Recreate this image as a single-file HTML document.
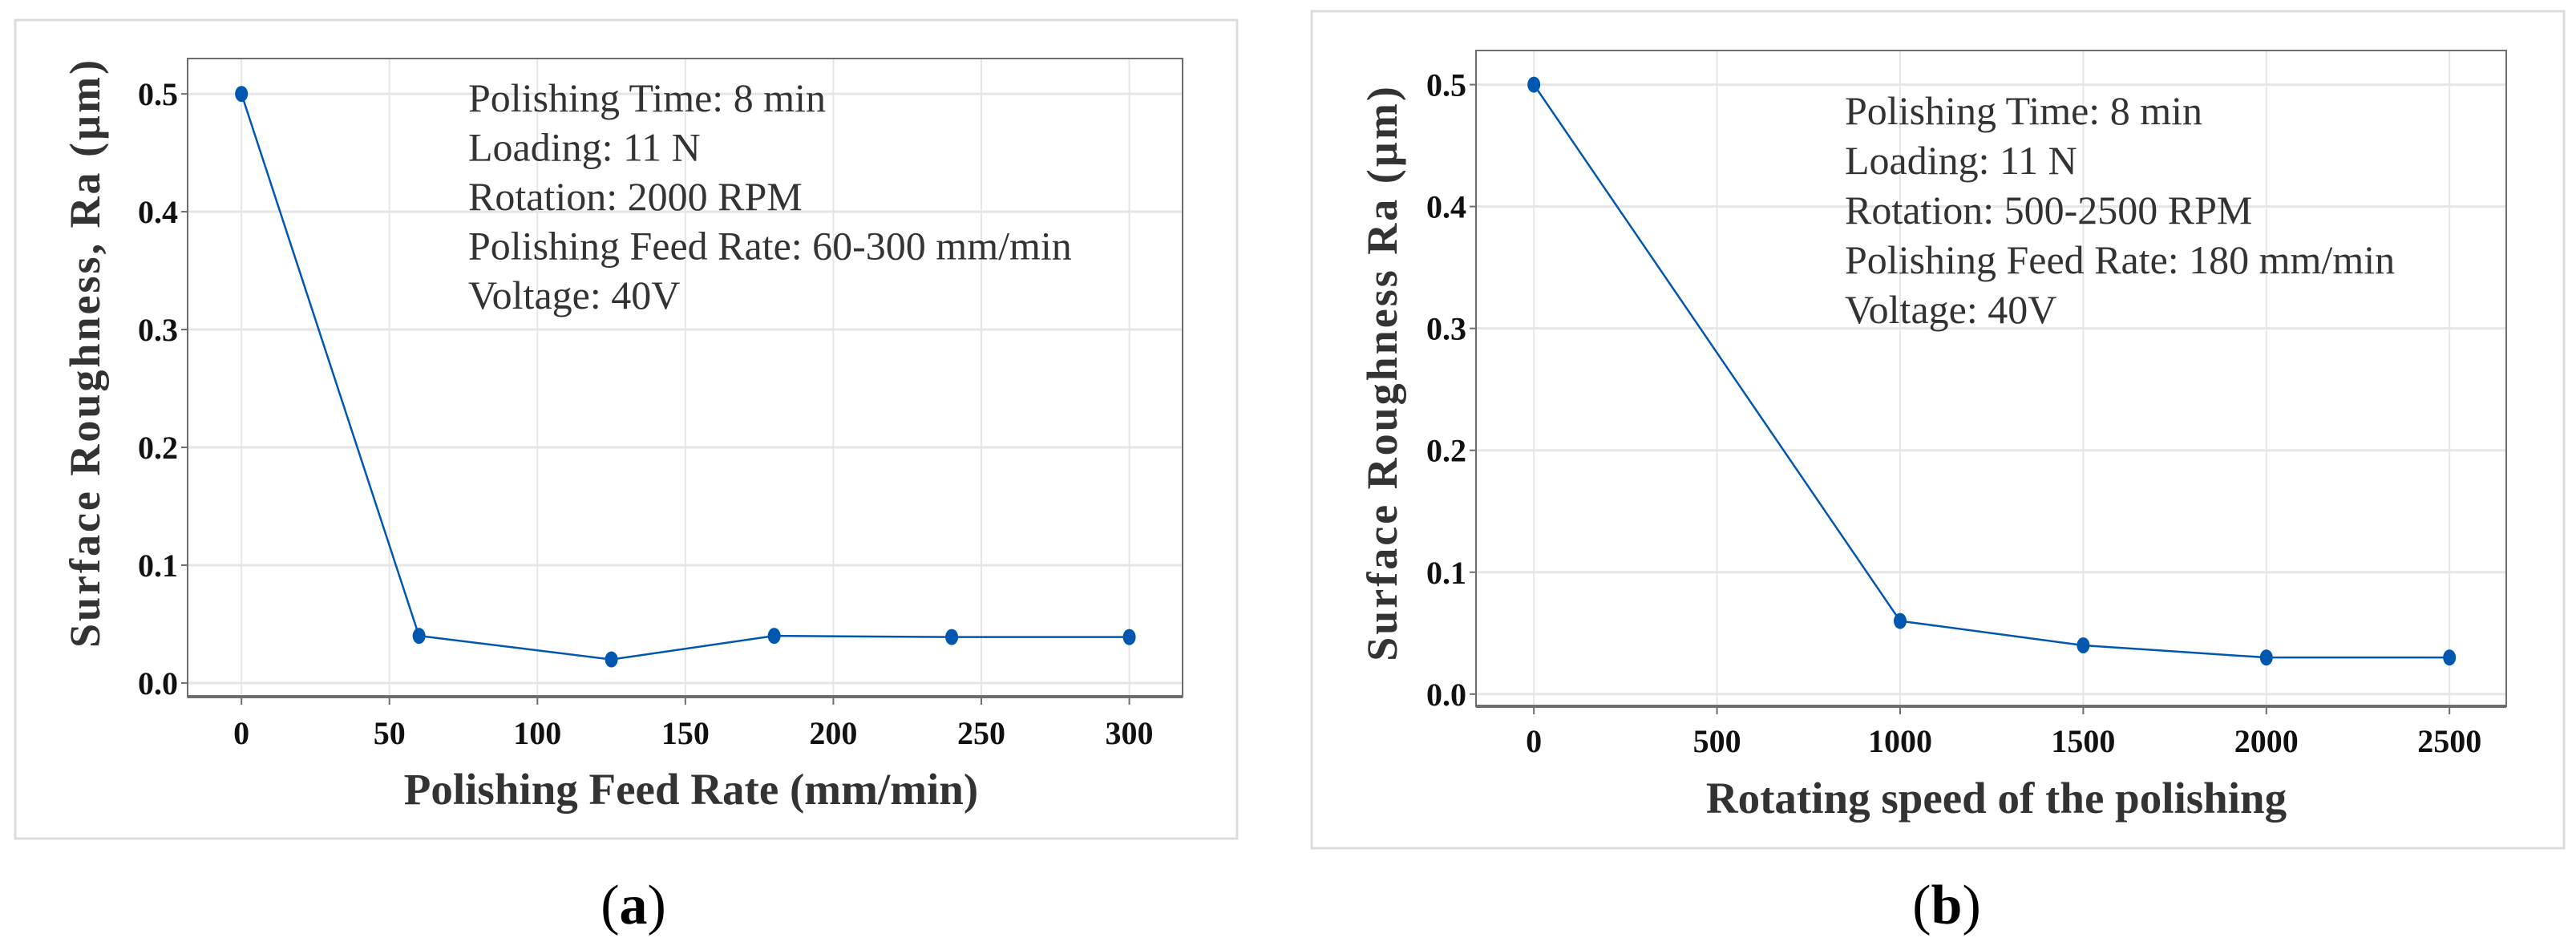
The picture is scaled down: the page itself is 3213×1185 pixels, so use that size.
<!DOCTYPE html>
<html><head><meta charset="utf-8"><style>
html,body{margin:0;padding:0;background:#fff;}
svg{display:block;}
</style></head><body>
<svg id="fig" width="3213" height="1185" viewBox="0 0 3213 1185" xmlns="http://www.w3.org/2000/svg">
<rect x="0" y="0" width="3213" height="1185" fill="#fff"/>
</svg>
<script>
// Panel (a) data
const feedRates = [0, 60, 125, 180, 240, 300];
const feedRoughness = [0.5, 0.04, 0.02, 0.04, 0.039, 0.039];
const feedTicks = [0, 50, 100, 150, 200, 250, 300];
// Panel (b) data
const speeds = [0, 1000, 1500, 2000, 2500];
const speedRoughness = [0.5, 0.06, 0.04, 0.03, 0.03];
const speedTicks = [0, 500, 1000, 1500, 2000, 2500];
const yTicks = [0.0, 0.1, 0.2, 0.3, 0.4, 0.5];
const notesA = ["Polishing Time: 8 min","Loading: 11 N","Rotation: 2000 RPM","Polishing Feed Rate: 60-300 mm/min","Voltage: 40V"];
const notesB = ["Polishing Time: 8 min","Loading: 11 N","Rotation: 500-2500 RPM","Polishing Feed Rate: 180 mm/min","Voltage: 40V"];

const NS = "http://www.w3.org/2000/svg";
const svg = document.getElementById('fig');
function mk(tag, attrs, parent, text){
  const e = document.createElementNS(NS, tag);
  for (const k in attrs) e.setAttribute(k, attrs[k]);
  if (text !== undefined) e.textContent = text;
  (parent||svg).appendChild(e);
  return e;
}

function panel(cfg){
  const g = mk('g', {});
  
  
  const border = mk('rect', {x:cfg.bx, y:cfg.by, width:cfg.bw, height:cfg.bh, fill:'#fff', stroke:'#dcdcdc', 'stroke-width':3}, g);
  
  
  const L=cfg.l, T=cfg.t, R=cfg.r, B=cfg.b;
  const sx = v => L + (v - cfg.xmin) / (cfg.xmax - cfg.xmin) * (R - L);
  const sy = v => B - (v - cfg.ymin) / (cfg.ymax - cfg.ymin) * (B - T);
  cfg.xticks.forEach(v => {
    const ln = mk('line', {x1:sx(v), x2:sx(v), y1:T, y2:B, stroke:'#e6e6e6', 'stroke-width':2}, g);
    
    
  });
  yTicks.forEach(v => {
    const ln = mk('line', {x1:L, x2:R, y1:sy(v), y2:sy(v), stroke:'#e6e6e6', 'stroke-width':3}, g);
    
    
  });
  const fr = mk('rect', {x:L, y:T, width:R-L, height:B-T, fill:'none', stroke:'#6e6e6e', 'stroke-width':2}, g);
  
  
  const bl = mk('line', {x1:L, x2:R, y1:B, y2:B, stroke:'#6e6e6e', 'stroke-width':4}, g);
  
  
  cfg.xticks.forEach(v => {
    const tk = mk('line', {x1:sx(v), x2:sx(v), y1:B, y2:B+10, stroke:'#6e6e6e', 'stroke-width':2}, g);
    
    
    const t = mk('text', {x:sx(v), y:cfg.xlabY, 'text-anchor':'middle', 'font-family':'Liberation Serif, serif', 'font-weight':'bold', 'font-size':40, fill:'#111'}, g, String(v));
    
    
  });
  yTicks.forEach(v => {
    const tk = mk('line', {x1:L-8, x2:L, y1:sy(v), y2:sy(v), stroke:'#6e6e6e', 'stroke-width':2}, g);
    
    
    const t = mk('text', {x:L-12, y:sy(v)+14, 'text-anchor':'end', 'font-family':'Liberation Serif, serif', 'font-weight':'bold', 'font-size':40, fill:'#111'}, g, v.toFixed(1));
    
    
  });
  const pts = cfg.xs.map((x,i) => sx(x)+','+sy(cfg.ys[i])).join(' ');
  const pl = mk('polyline', {points:pts, fill:'none', stroke:'#0057b0', 'stroke-width':2.5}, g);
  
  
  cfg.xs.forEach((x,i) => {
    const c = mk('ellipse', {cx:sx(x), cy:sy(cfg.ys[i]), rx:8, ry:10, fill:'#0057b0'}, g);
    
    
  });
  cfg.notes.forEach((s,i) => {
    const t = mk('text', {x:cfg.nx, y:cfg.ny + i*cfg.nstep, 'font-family':'Liberation Serif, serif', 'font-size':50, fill:'#333'}, g, s);
    
    
  });
  const xt = mk('text', {x:cfg.xtX, y:cfg.xtY, 'text-anchor':'middle', 'font-family':'Liberation Serif, serif', 'font-weight':'bold', 'font-size':55, fill:'#333'}, g, cfg.xtitle);
  
  
  const yt = mk('text', {x:0, y:0, 'text-anchor':'middle', 'font-family':'Liberation Serif, serif', 'font-weight':'bold', 'font-size':54, 'letter-spacing':3, fill:'#333', transform:'translate('+cfg.ytX+','+cfg.ytY+') rotate(-90)'}, g, cfg.ytitle);
  
  
  const cap = mk('text', {x:cfg.capX, y:1152, 'text-anchor':'middle', 'font-family':'Liberation Serif, serif', 'font-size':70, fill:'#000'}, g);
  
  
  mk('tspan', {}, cap, '(');
  mk('tspan', {'font-weight':'bold'}, cap, cfg.cap);
  mk('tspan', {}, cap, ')');
}

panel({name:'panel-a', bx:19, by:25, bw:1524, bh:1021, l:234, t:73, r:1475, b:869,
  xmin:-18.2, xmax:318, ymin:-0.0116, ymax:0.53, xticks:feedTicks, xs:feedRates, ys:feedRoughness,
  xlabY:928, notes:notesA, nx:584, ny:139, nstep:61.5,
  xtitle:'Polishing Feed Rate (mm/min)', xtX:862, xtY:1003,
  ytitle:'Surface Roughness, Ra (µm)', ytX:124, ytY:440, capX:790, cap:'a'});
panel({name:'panel-b', bx:1636, by:14, bw:1562, bh:1044, l:1841, t:63, r:3126, b:881,
  xmin:-158, xmax:2655, ymin:-0.01, ymax:0.528, xticks:speedTicks, xs:speeds, ys:speedRoughness,
  xlabY:938, notes:notesB, nx:2301, ny:155, nstep:62,
  xtitle:'Rotating speed of the polishing', xtX:2490, xtY:1014,
  ytitle:'Surface Roughness Ra (µm)', ytX:1742, ytY:465, capX:2428, cap:'b'});
</script>
</body></html>
